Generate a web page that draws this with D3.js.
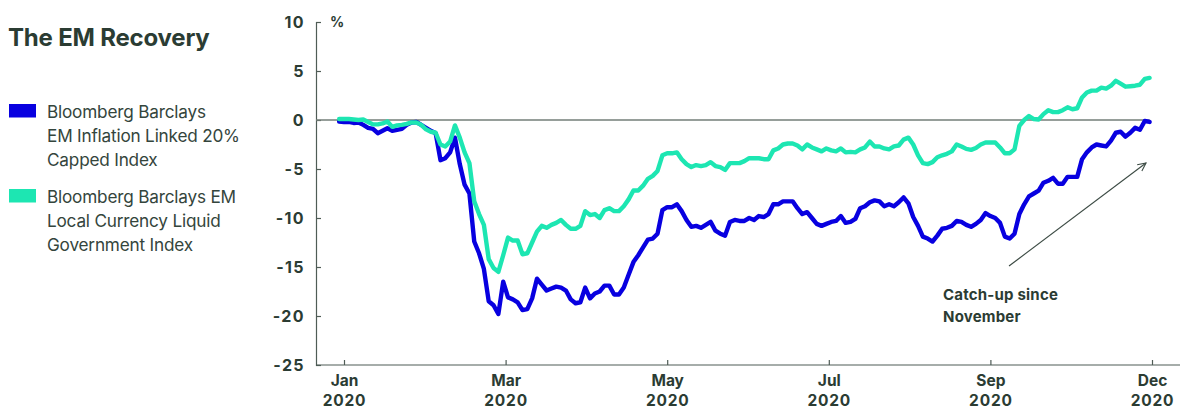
<!DOCTYPE html>
<html>
<head>
<meta charset="utf-8">
<script src="https://cdn.jsdelivr.net/npm/d3@7"></script>
<style>
  html, body { margin: 0; padding: 0; background: #ffffff; }
  svg { display: block; }
  text { font-family: Inter, "Noto Sans", sans-serif; }
</style>
</head>
<body>
<svg id="chart" width="1183" height="410"></svg>
<script>
// Two-day sampling from 30 Dec 2019 to 30 Nov 2020 (cumulative return, %)
const dates = d3.utcDay.range(new Date(Date.UTC(2019, 11, 30)), new Date(Date.UTC(2020, 11, 2)), 2);

const inflationLinked = [
  -0.15, -0.2, -0.2, -0.3, -0.25, -0.5, -0.8, -0.9, -1.35, -1.1,
  -0.85, -1.1, -1.0, -0.9, -0.5, -0.25, -0.2, -0.5, -0.8, -1.1,
  -1.35, -4.1, -3.9, -3.3, -1.8, -4.5, -6.6, -7.5, -12.4, -13.6,
  -15.2, -18.5, -18.9, -19.8, -16.5, -18.1, -18.3, -18.6, -19.4, -19.3,
  -18.2, -16.2, -16.8, -17.4, -17.2, -17.0, -17.1, -17.4, -18.3, -18.7,
  -18.6, -17.1, -18.2, -17.7, -17.5, -16.9, -16.9, -17.8, -17.8, -17.1,
  -15.8, -14.5, -13.8, -13.0, -12.2, -12.1, -11.6, -9.2, -8.9, -8.9,
  -8.6, -9.3, -10.2, -10.9, -10.8, -11.0, -10.7, -10.4, -11.3, -11.6,
  -11.8, -10.4, -10.2, -10.3, -10.3, -10.0, -10.2, -9.8, -9.9, -9.6,
  -8.6, -8.6, -8.3, -8.3, -8.3, -9.0, -9.6, -9.4, -10.0, -10.6,
  -10.8, -10.6, -10.4, -10.3, -9.8, -10.5, -10.4, -10.1, -9.0, -8.8,
  -8.4, -8.2, -8.3, -8.8, -8.6, -8.8, -8.4, -7.9, -8.5, -9.9,
  -10.8, -11.9, -12.1, -12.4, -11.8, -11.1, -11.0, -10.8, -10.3, -10.4,
  -10.7, -10.9, -10.6, -10.2, -9.5, -9.8, -10.0, -10.5, -11.9, -12.1,
  -11.6, -9.6, -8.6, -7.8, -7.5, -7.2, -6.4, -6.2, -5.9, -6.5,
  -6.5, -5.8, -5.8, -5.8, -4.0, -3.3, -2.8, -2.5, -2.6, -2.7,
  -2.1, -1.3, -1.2, -1.7, -1.3, -0.8, -1.0, -0.1, -0.2
];

const localCurrency = [
  0.1, 0.1, 0.1, 0.05, 0.0, 0.05, -0.2, -0.45, -0.45, -0.35,
  -0.15, -0.7, -0.55, -0.5, -0.4, -0.25, -0.25, -0.5, -0.95, -1.2,
  -1.3, -2.5, -2.7, -2.2, -0.55, -1.8, -3.3, -4.4, -8.3, -9.6,
  -10.7, -14.2, -15.1, -15.5, -13.8, -12.0, -12.3, -12.3, -13.7, -13.6,
  -12.5, -11.4, -10.8, -11.0, -10.7, -10.5, -10.2, -10.7, -11.1, -11.1,
  -10.8, -9.3, -9.7, -9.6, -10.0, -9.2, -9.0, -9.3, -9.3, -8.8,
  -8.1, -7.2, -7.2, -6.7, -6.0, -5.7, -5.2, -3.6, -3.4, -3.4,
  -3.3, -4.0, -4.5, -4.8, -4.6, -4.7, -4.6, -4.3, -4.7, -4.8,
  -5.1, -4.4, -4.4, -4.4, -4.2, -3.9, -3.9, -3.9, -4.0, -4.0,
  -3.1, -2.9, -2.5, -2.4, -2.4, -2.6, -3.0, -2.5, -2.8, -3.0,
  -3.2, -2.9, -3.1, -3.2, -2.9, -3.3, -3.25, -3.3, -3.0, -2.8,
  -2.2, -2.7, -2.7, -2.9, -3.0, -2.7, -2.6, -2.0, -1.8, -2.5,
  -3.6, -4.4, -4.5, -4.3, -3.8, -3.6, -3.45, -3.2, -2.5, -2.7,
  -2.95, -3.05, -2.85, -2.5, -2.3, -2.3, -2.3, -2.8, -3.4, -3.4,
  -3.0, -0.6, 0.0, 0.4, 0.1, 0.05, 0.6, 1.0, 0.8, 0.8,
  1.0, 1.3, 1.1, 1.2, 2.3, 2.8, 3.0, 3.0, 3.3, 3.2,
  3.5, 4.0, 3.7, 3.4, 3.45, 3.5, 3.6, 4.2, 4.3
];

const seriesNames = [
  ["Bloomberg Barclays", "EM Inflation Linked 20%", "Capped Index"],
  ["Bloomberg Barclays EM", "Local Currency Liquid", "Government Index"]
];
const seriesColors = ["#0800e0", "#1de6b2"];

const tickDates = ["2020-01-01", "2020-03-08", "2020-05-14", "2020-07-20", "2020-09-25", "2020-12-01"];
const yTicks = [10, 5, 0, -5, -10, -15, -20, -25];

const title = "The EM Recovery";
const note = ["Catch-up since", "November"];

const ink = "#2b3c33";
const axisInk = "#4f5c56";

const svg = d3.select("#chart");

const x = d3.scaleUtc()
  .domain([new Date(Date.UTC(2020, 0, 1)), new Date(Date.UTC(2020, 11, 1))])
  .range([344, 1152]);
const y = d3.scaleLinear().domain([-25, 10]).range([365, 22]);

const plotLeft = 316, plotRight = 1180;

// Title
svg.append("text")
  .attr("x", 8).attr("y", 46)
  .attr("font-size", 24).attr("font-weight", 700)
  .attr("letter-spacing", -0.2)
  .attr("fill", ink)
  .text(title);

// Legend
const legendTop = [104, 189];
seriesNames.forEach((lines, k) => {
  svg.append("rect")
    .attr("x", 9).attr("y", legendTop[k])
    .attr("width", 27).attr("height", 13.5)
    .attr("fill", seriesColors[k]);
  lines.forEach((line, j) => {
    svg.append("text")
      .attr("x", 47).attr("y", legendTop[k] + 14 + j * 24)
      .attr("font-size", 17.2)
      .attr("letter-spacing", -0.2)
      .attr("fill", "#34453c")
      .text(line);
  });
});

// Y axis
const yAxis = d3.axisLeft(y)
  .tickValues(yTicks)
  .tickSize(-5)
  .tickPadding(11)
  .tickFormat(d => d < 0 ? "-" + Math.abs(d) : String(d));
const gy = svg.append("g").attr("transform", `translate(${plotLeft},0)`).call(yAxis);
gy.select(".domain").attr("stroke", axisInk).attr("stroke-width", 1.2);
gy.selectAll(".tick line").attr("stroke", axisInk).attr("stroke-width", 1.2);
gy.selectAll(".tick text")
  .attr("fill", ink).attr("font-size", 16).attr("font-weight", 700)
  .attr("letter-spacing", 1.4)
  .attr("font-family", "Inter, sans-serif");

svg.append("text")
  .attr("x", 330).attr("y", 27)
  .attr("font-size", 14).attr("font-weight", 700)
  .attr("fill", ink)
  .text("%");

// X axis
const xAxis = d3.axisBottom(x)
  .tickValues(tickDates.map(d => new Date(d + "T00:00:00Z")))
  .tickSize(-5)
  .tickFormat("");
const gx = svg.append("g").attr("transform", `translate(0,${y(-25)})`).call(xAxis);
gx.select(".domain").remove();
gx.append("line")
  .attr("x1", plotLeft).attr("x2", plotRight)
  .attr("stroke", axisInk).attr("stroke-width", 1.2);
gx.selectAll(".tick line").attr("stroke", axisInk).attr("stroke-width", 1.2);
const fmtMonth = d3.utcFormat("%b"), fmtYear = d3.utcFormat("%Y");
gx.selectAll(".tick").each(function (d) {
  const t = d3.select(this);
  t.append("text").attr("y", 21).attr("text-anchor", "middle")
    .attr("fill", ink).attr("font-size", 15.5).attr("font-weight", 700)
    .text(fmtMonth(d));
  t.append("text").attr("y", 41).attr("text-anchor", "middle")
    .attr("fill", ink).attr("font-size", 15.5).attr("font-weight", 700)
    .attr("letter-spacing", 0.8)
    .text(fmtYear(d));
});

// Zero line
svg.append("line")
  .attr("x1", plotLeft).attr("x2", x(dates[dates.length - 1]))
  .attr("y1", y(0)).attr("y2", y(0))
  .attr("stroke", "#737e79").attr("stroke-width", 1.3);

// Series lines
const line = d3.line()
  .x((d, i) => x(dates[i]))
  .y(d => y(d));

[inflationLinked, localCurrency].forEach((vals, k) => {
  svg.append("path")
    .datum(vals)
    .attr("d", line)
    .attr("fill", "none")
    .attr("stroke", seriesColors[k])
    .attr("stroke-width", 4.4)
    .attr("stroke-linejoin", "round")
    .attr("stroke-linecap", "round");
});

// Annotation arrow
const a0 = [1009, 266], a1 = [1146, 163];
svg.append("line")
  .attr("x1", a0[0]).attr("y1", a0[1]).attr("x2", a1[0]).attr("y2", a1[1])
  .attr("stroke", "#3b4a43").attr("stroke-width", 1.1);
const ang = Math.atan2(a1[1] - a0[1], a1[0] - a0[0]);
const head = 9, spread = 0.45;
svg.append("path")
  .attr("d", `M${a1[0] - head * Math.cos(ang - spread)},${a1[1] - head * Math.sin(ang - spread)}L${a1[0]},${a1[1]}L${a1[0] - head * Math.cos(ang + spread)},${a1[1] - head * Math.sin(ang + spread)}`)
  .attr("fill", "none").attr("stroke", "#3b4a43").attr("stroke-width", 1.1);

note.forEach((t, j) => {
  svg.append("text")
    .attr("x", 943).attr("y", 300 + j * 22)
    .attr("font-size", 15).attr("font-weight", 700)
    .attr("letter-spacing", 0.2)
    .attr("fill", ink)
    .text(t);
});
</script>
</body>
</html>
